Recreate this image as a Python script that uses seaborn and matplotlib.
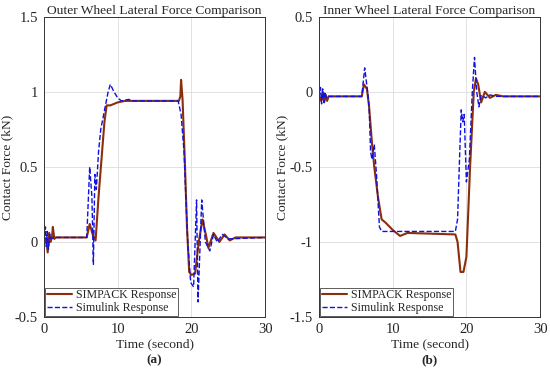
import numpy as np
import pandas as pd
import seaborn as sb
import matplotlib.pyplot as plt

# Outer wheel - SIMPACK
outer_sp_t = [0, 0.3, 0.5, 0.7, 0.9, 1.1, 1.2, 1.4, 1.6, 5.8, 6.2, 6.6, 7.0, 7.4, 7.8, 8.2, 8.5, 9.0, 10.0,
              11.0, 18.3, 18.5, 18.6, 18.8, 19.1, 19.4, 19.7, 20.0, 20.5, 21.0, 21.5, 22.0, 22.3, 23.0,
              23.8, 24.5, 25.2, 26.0, 30]
outer_sp_v = [0.03, 0.02, -0.07, 0.06, 0.0, 0.04, 0.1, 0.02, 0.03, 0.03, 0.12, 0.05, 0.01, 0.3, 0.55, 0.8,
              0.91, 0.91, 0.93, 0.94, 0.94, 0.97, 1.08, 0.95, 0.55, 0.1, -0.2, -0.22, -0.21, 0.0, 0.15,
              0.04, -0.04, 0.06, 0.0, 0.05, 0.01, 0.03, 0.03]

# Outer wheel - Simulink
outer_sl_t = [0, 0.2, 0.3, 0.45, 0.6, 0.8, 1.0, 1.3, 5.8, 6.2, 6.5, 6.7, 6.9, 7.1, 7.4, 7.7, 8.3, 8.7,
              9.0, 9.5, 10.0, 10.5, 11.5, 12.0, 18.2, 18.6, 19.0, 19.5, 19.9, 20.3, 20.7, 20.9, 21.4,
              21.9, 22.5, 23.0, 23.5, 24.2, 25.0, 30]
outer_sl_v = [0.03, 0.1, -0.03, 0.07, -0.05, 0.05, 0.02, 0.03, 0.03, 0.5, 0.3, -0.15, 0.45, 0.35, 0.6,
              0.75, 0.9, 1.0, 1.05, 1.0, 0.96, 0.94, 0.95, 0.94, 0.94, 0.85, 0.6, 0.0, -0.27, -0.3, 0.28,
              -0.4, 0.28, 0.0, -0.06, 0.05, 0.0, 0.05, 0.02, 0.03]

# Inner wheel - SIMPACK
inner_sp_t = [0, 0.3, 0.5, 0.7, 0.9, 1.1, 1.3, 1.6, 5.8, 6.1, 6.5, 6.8, 7.2, 7.5, 8.0, 8.5, 9.0, 10.0,
              11.0, 12.0, 18.5, 18.8, 19.2, 19.6, 20.0, 20.5, 21.0, 21.3, 21.6, 22.0, 22.5, 23.2, 24.0,
              25.0, 30]
inner_sp_v = [-0.03, -0.06, 0.0, -0.07, -0.02, -0.06, -0.03, -0.03, -0.03, 0.05, 0.02, -0.1, -0.35,
              -0.5, -0.7, -0.85, -0.87, -0.92, -0.96, -0.94, -0.95, -1.0, -1.2, -1.2, -1.1, -0.5, 0.0,
              0.09, 0.05, -0.07, 0.0, -0.04, -0.02, -0.03, -0.03]

# Inner wheel - Simulink
inner_sl_t = [0, 0.2, 0.35, 0.5, 0.65, 0.8, 1.0, 1.2, 5.8, 6.2, 6.6, 6.8, 7.0, 7.2, 7.5, 7.8, 8.2,
              8.5, 18.5, 18.8, 19.1, 19.3, 19.5, 19.7, 20.0, 20.4, 20.8, 21.1, 21.4, 21.7, 22.0, 22.6,
              23.2, 24.0, 30]
inner_sl_v = [-0.03, 0.03, -0.08, 0.02, -0.07, 0.0, -0.04, -0.03, -0.03, 0.16, 0.0, -0.1, -0.4, -0.45,
              -0.35, -0.55, -0.9, -0.93, -0.93, -0.85, -0.4, -0.12, -0.2, -0.15, -0.6, -0.45, 0.0, 0.23,
              0.0, -0.1, -0.02, -0.04, -0.02, -0.03, -0.03]

sb.set_style("white")
plt.rcParams['font.family'] = ['Liberation Serif', 'DejaVu Serif']

fig = plt.figure(figsize=(5.5, 3.71), dpi=100)
ax1 = fig.add_axes([0.08, 0.1456, 0.402, 0.809])
ax2 = fig.add_axes([0.58, 0.1456, 0.402, 0.809])

panels = [
    (ax1, outer_sp_t, outer_sp_v, outer_sl_t, outer_sl_v, "Outer Wheel Lateral Force Comparison",
     (-0.5, 1.5), [-0.5, 0, 0.5, 1, 1.5], ['-0.5', '0', '0.5', '1', '1.5'], "(a)"),
    (ax2, inner_sp_t, inner_sp_v, inner_sl_t, inner_sl_v, "Inner Wheel Lateral Force Comparison",
     (-1.5, 0.5), [-1.5, -1, -0.5, 0, 0.5], ['-1.5', '-1', '-0.5', '0', '0.5'], "(b)"),
]

for ax, st, sv, lt, lv, title, ylim, yt, ytl, tag in panels:
    sp = pd.DataFrame({'t': st, 'v': sv})
    sl = pd.DataFrame({'t': lt, 'v': lv})
    sb.lineplot(data=sp, x='t', y='v', ax=ax, color='#8B2E0B', lw=1.5, label='SIMPACK Response')
    sb.lineplot(data=sl, x='t', y='v', ax=ax, color='#1010E0', lw=1.0, ls='--', label='Simulink Response')
    ax.set_xlim(0, 30)
    ax.set_ylim(*ylim)
    ax.set_xticks([0, 10, 20, 30])
    ax.set_yticks(yt)
    ax.set_yticklabels(ytl)
    ax.grid(True, color='#DDDDDD', lw=0.6)
    ax.tick_params(direction='in', labelsize=10.5, length=3, pad=4.5)
    for s in ax.spines.values():
        s.set_color('#333333')
        s.set_linewidth(0.7)
    ax.set_title(title, fontsize=9.7, pad=2)
    ax.set_ylabel("Contact Force (kN)", fontsize=9.7, labelpad=1)
    ax.set_xlabel("Time (second)", fontsize=9.7, labelpad=1.5)
    ax.text(0.5, -0.125, tag, transform=ax.transAxes, ha='center', va='top', fontsize=9.5, fontweight='bold')
    leg = ax.legend(loc='lower left', fontsize=8.6, frameon=True, fancybox=False, borderpad=0.15,
                    labelspacing=0.05, handlelength=2.1, handletextpad=0.3, borderaxespad=0.1)
    leg.get_frame().set_edgecolor('#333333')
    leg.get_frame().set_linewidth(0.7)

fig.savefig('out.png', dpi=100)
